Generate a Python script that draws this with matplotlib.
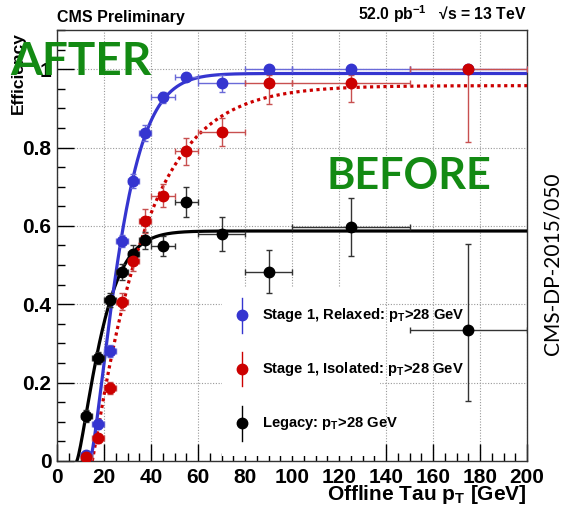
import numpy as np
import matplotlib
matplotlib.use('Agg')
import matplotlib.pyplot as plt
from matplotlib.patches import Rectangle

plt.rcParams['font.family'] = ['Liberation Sans', 'DejaVu Sans']
plt.rcParams['mathtext.fontset'] = 'custom'
plt.rcParams['mathtext.rm'] = 'Liberation Sans:bold'
plt.rcParams['mathtext.it'] = 'Liberation Sans:bold'
plt.rcParams['mathtext.bf'] = 'Liberation Sans:bold'
plt.rcParams['mathtext.default'] = 'rm'

# offline tau pT bins (centre and half width)
bin_centre = [12.5, 17.5, 22.5, 27.5, 32.5, 37.5, 45, 55, 70, 90, 125, 175]
bin_half = [2.5, 2.5, 2.5, 2.5, 2.5, 2.5, 5, 5, 10, 10, 25, 25]

# Stage 1, relaxed
eff_relaxed = [0.015, 0.094, 0.28, 0.562, 0.715, 0.837, 0.928, 0.979, 0.965, 1.0, 1.0, 1.0]
err_relaxed_lo = [0.01, 0.012, 0.015, 0.015, 0.018, 0.02, 0.015, 0.01, 0.022, 0.005, 0.005, 0.0]
err_relaxed_hi = [0.01, 0.012, 0.015, 0.015, 0.018, 0.02, 0.015, 0.01, 0.02, 0.0, 0.0, 0.0]

# Stage 1, isolated
eff_isolated = [0.01, 0.058, 0.187, 0.407, 0.511, 0.613, 0.677, 0.79, 0.84, 0.965, 0.965, 1.0]
err_isolated_lo = [0.008, 0.012, 0.015, 0.022, 0.025, 0.03, 0.03, 0.035, 0.036, 0.055, 0.05, 0.185]
err_isolated_hi = [0.008, 0.012, 0.015, 0.022, 0.025, 0.03, 0.03, 0.035, 0.036, 0.02, 0.02, 0.0]

# Legacy
eff_legacy = [0.114, 0.262, 0.41, 0.482, 0.529, 0.563, 0.549, 0.662, 0.58, 0.483, 0.597, 0.334]
err_legacy_lo = [0.015, 0.015, 0.018, 0.02, 0.022, 0.022, 0.025, 0.038, 0.043, 0.055, 0.073, 0.18]
err_legacy_hi = [0.015, 0.015, 0.018, 0.02, 0.022, 0.022, 0.025, 0.038, 0.043, 0.055, 0.073, 0.22]

# turn-on fit parameters: plateau, threshold, scale, power
fit_relaxed = (0.989, 14.0, 15.0, 1.35)
fit_isolated = (0.958, 15.0, 23.3, 1.07)
fit_legacy = (0.587, 8.4, 12.4, 1.31)

BLUE = '#3535d0'
RED = '#cc0000'
BLACK = 'black'


def turn_on(x, plateau, x0, tau, p):
    d = np.clip(x - x0, 0, None)
    return plateau * (1 - np.exp(-(d / tau) ** p))


fig = plt.figure(figsize=(5.66, 5.07), dpi=100)
ax = fig.add_axes([57 / 566, 46 / 507, 470 / 566, 431 / 507])
ax.set_xlim(0, 200)
ax.set_ylim(0, 1.1)

# dotted grid at major ticks
ax.grid(True, which='major', linestyle=(0, (1, 1.5)), color='#999999', linewidth=0.8)
ax.set_axisbelow(True)

# white legend box sits above the grid
ax.add_patch(Rectangle((0.351, 0.012), 0.336, 0.391, transform=ax.transAxes,
                       facecolor='white', edgecolor='none', zorder=1.5))

xs = np.linspace(0, 200, 800)
for pars, col, ls in [(fit_legacy, BLACK, '-'), (fit_isolated, RED, (0, (1, 1.1))),
                      (fit_relaxed, BLUE, '-')]:
    x = xs[xs >= pars[1]]
    ax.plot(x, turn_on(x, *pars), color=col, linestyle=ls, linewidth=2.3, zorder=3)

series = [
    (eff_legacy, err_legacy_lo, err_legacy_hi, BLACK, '#333333'),
    (eff_relaxed, err_relaxed_lo, err_relaxed_hi, BLUE, '#6a6ad8'),
    (eff_isolated, err_isolated_lo, err_isolated_hi, RED, '#c85050'),
]
for eff, lo, hi, col, ecol in series:
    ax.errorbar(bin_centre, eff, xerr=bin_half, yerr=[lo, hi], fmt='o', color=col,
                ecolor=ecol, elinewidth=1.0, capsize=2, capthick=1.0, markersize=7.5,
                zorder=4)

# axis ticks, ROOT style
ax.set_xticks(np.arange(0, 201, 20))
ax.set_xticks(np.arange(0, 201, 5), minor=True)
ax.set_yticks([0, 0.2, 0.4, 0.6, 0.8, 1.0])
ax.set_yticks(np.arange(0, 1.101, 0.05), minor=True)
ax.set_yticklabels(['0', '0.2', '0.4', '0.6', '0.8', '1'])
ax.tick_params(which='both', direction='in', top=False, right=False, labelsize=15,
               width=1.0)
ax.tick_params(which='major', length=12)
ax.tick_params(which='minor', length=6)
ax.tick_params(axis='x', pad=5)
ax.tick_params(axis='y', pad=4)
for lab in ax.get_xticklabels() + ax.get_yticklabels():
    lab.set_fontweight('bold')
for s in ax.spines.values():
    s.set_linewidth(1.0)
    s.set_color('#333333')

ax.set_xlabel(r'Offline Tau p$_{T}$ [GeV]', fontsize=15, fontweight='bold', loc='right')
ax.xaxis.set_label_coords(1.0, -0.09)
ax.xaxis.label.set_va('baseline')
ax.set_ylabel('Efficiency', fontsize=12.5, fontweight='bold', loc='top')
ax.yaxis.set_label_coords(-0.066, 0.995)

ax.text(0.0, 1.012, 'CMS Preliminary', transform=ax.transAxes, fontsize=11.5,
        fontweight='bold', ha='left', va='bottom')
ax.text(1.0, 1.012, r'52.0 pb$^{-1}$   √s = 13 TeV', transform=ax.transAxes,
        fontsize=11.3, fontweight='bold', ha='right', va='bottom')

# legend entries
labels = [r'Stage 1, Relaxed: p$_{T}$>28 GeV', r'Stage 1, Isolated: p$_{T}$>28 GeV',
          r'Legacy: p$_{T}$>28 GeV']
colors = [BLUE, RED, BLACK]
leg_y = [0.338, 0.213, 0.0875]
for lab, col, y in zip(labels, colors, leg_y):
    ax.plot([0.393, 0.393], [y - 0.04, y + 0.04], color=col, linewidth=1.0,
            transform=ax.transAxes, zorder=5)
    ax.plot([0.393], [y], 'o', color=col, markersize=7.5, transform=ax.transAxes,
            zorder=5)
    ax.text(0.436, y, lab, transform=ax.transAxes, fontsize=10.6, fontweight='bold',
            va='center', ha='left', zorder=5)

# annotations
green = '#138a13'
fig.text(10 / 566, 1 - 75 / 507, 'AFTER', fontsize=33, fontweight='bold', color=green,
         family='Lato', ha='left', va='baseline')
fig.text(327 / 566, 1 - 189 / 507, 'BEFORE', fontsize=31, fontweight='bold',
         color=green, family='Lato', ha='left', va='baseline')
fig.text(553 / 566, 1 - 264 / 507, 'CMS-DP-2015/050', fontsize=15, rotation=90,
         family='Lato', ha='center', va='center')

fig.savefig('out.png', dpi=100)
